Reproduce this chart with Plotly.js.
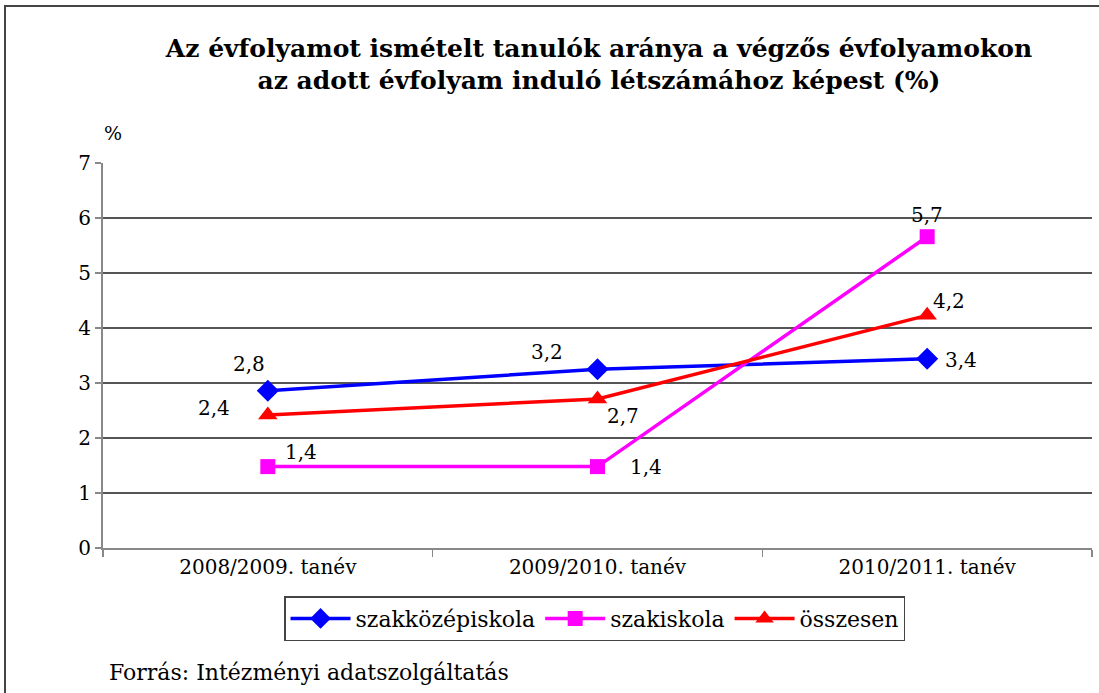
<!DOCTYPE html>
<html>
<head>
<meta charset="utf-8">
<script src="https://cdn.plot.ly/plotly-3.0.1.min.js"></script>
<style>
html,body{margin:0;padding:0;background:#fff;overflow:hidden;}
#frame{position:absolute;left:4px;top:5px;width:1200px;height:800px;border-left:2px solid #444;border-top:2px solid #444;pointer-events:none;z-index:5;}
#chart{position:absolute;left:0;top:0;width:1099px;height:693px;}
</style>
</head>
<body>
<div id="chart"></div>
<div id="frame"></div>
<script>
const categories = ["2008/2009. tanév", "2009/2010. tanév", "2010/2011. tanév"];
const seriesNames = ["szakközépiskola", "szakiskola", "összesen"];
const szakkozep = [2.86, 3.25, 3.44];
const szakiskola = [1.48, 1.48, 5.66];
const osszesen = [2.42, 2.71, 4.23];
const szakkozepLabels = ["2,8", "3,2", "3,4"];
const szakiskolaLabels = ["1,4", "1,4", "5,7"];
const osszesenLabels = ["2,4", "2,7", "4,2"];
const yTicks = [0, 1, 2, 3, 4, 5, 6, 7];

const serif = "DejaVu Serif, Liberation Serif, serif";

const traces = [
  {x: categories, y: szakkozep, name: seriesNames[0], type: "scatter", mode: "lines+markers",
   line: {color: "#0000ff", width: 3.5}, marker: {symbol: "diamond", size: 17, color: "#0000ff"}},
  {x: categories, y: szakiskola, name: seriesNames[1], type: "scatter", mode: "lines+markers",
   line: {color: "#ff00ff", width: 3.5}, marker: {symbol: "square", size: 15, color: "#ff00ff"}},
  {x: categories, y: osszesen, name: seriesNames[2], type: "scatter", mode: "lines+markers",
   line: {color: "#ff0000", width: 3.5}, marker: {symbol: "triangle-up", size: 17, color: "#ff0000"}}
];

const offsets = {
  s0: [[-19, 27], [-51, 17], [34, -1]],
  s1: [[33, 15], [48, 0], [0, 22]],
  s2: [[-54, 7], [25, -17], [22, 14]]
};
const annotations = [];
function addLabels(vals, labels, offs) {
  vals.forEach((v, i) => {
    annotations.push({x: categories[i], y: v, text: labels[i], showarrow: false,
      xshift: offs[i][0], yshift: offs[i][1], font: {family: serif, size: 20, color: "#000"}});
  });
}
addLabels(szakkozep, szakkozepLabels, offsets.s0);
addLabels(szakiskola, szakiskolaLabels, offsets.s1);
addLabels(osszesen, osszesenLabels, offsets.s2);
annotations.push({xref: "paper", yref: "paper", x: 0.0, y: 1.0, xshift: 10, yshift: 30, xanchor: "center", yanchor: "middle",
  text: "%", showarrow: false, font: {family: serif, size: 19, color: "#000"}});
annotations.push({xref: "paper", yref: "paper", x: 0, y: 0, xshift: 4, yshift: -124, xanchor: "left", yanchor: "middle",
  text: "Forrás: Intézményi adatszolgáltatás", showarrow: false, font: {family: serif, size: 22, color: "#000"}});

const layout = {
  width: 1099, height: 693,
  margin: {l: 103, r: 7, t: 163, b: 145},
  paper_bgcolor: "#fff", plot_bgcolor: "#fff",
  title: {text: "<b>Az évfolyamot ismételt tanulók aránya a végzős évfolyamokon<br>az adott évfolyam induló létszámához képest (%)</b>",
    x: 0.545, xanchor: "center", y: 0.918, yanchor: "top", pad: {t: 0},
    font: {family: serif, size: 25, color: "#000"}},
  showlegend: true,
  legend: {orientation: "h", x: 0.497, xanchor: "center", y: -0.125, yanchor: "top",
    bordercolor: "#444", borderwidth: 1.5, bgcolor: "#fff",
    font: {family: serif, size: 22, color: "#000"}, itemwidth: 60},
  xaxis: {type: "category", showgrid: false, zeroline: false, showline: true, linecolor: "#888", linewidth: 2,
    ticks: "outside", tickson: "boundaries", ticklen: 7, tickcolor: "#888", tickwidth: 1.5,
    tickfont: {family: serif, size: 20, color: "#000"}, range: [-0.5, 2.5], fixedrange: true},
  yaxis: {range: [0, 7], tickvals: yTicks, showgrid: true, gridcolor: "#555", gridwidth: 1.2,
    zeroline: false, showline: true, linecolor: "#888", linewidth: 2,
    ticks: "outside", ticklen: 6, tickcolor: "#888", tickwidth: 1.5,
    tickfont: {family: serif, size: 20, color: "#000"}, fixedrange: true},
  annotations: annotations
};

Plotly.newPlot("chart", traces, layout, {displayModeBar: false, staticPlot: true});
</script>
</body>
</html>
